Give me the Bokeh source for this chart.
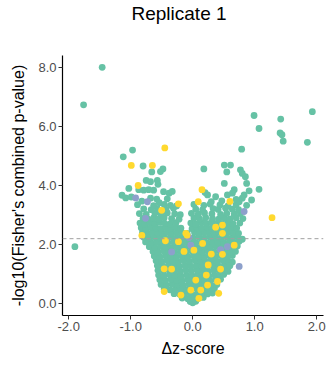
from bokeh.plotting import figure
from bokeh.models import Span, FixedTicker, PrintfTickFormatter, Range1d, Title
from bokeh.embed import file_html
from bokeh.resources import INLINE

title_text = "Replicate 1"
x_label = "Δz-score"
y_label = "-log10(Fisher's combined p-value)"
x_ticks = [-2.0, -1.0, 0.0, 1.0, 2.0]
y_ticks = [0.0, 2.0, 4.0, 6.0, 8.0]
threshold = 2.2

teal_x = [
    -0.04, 0.00, 0.05,
    -0.17, -0.08, 0.00, 0.09, 0.17,
    -0.30, -0.21, -0.12, -0.03, 0.06, 0.15, 0.24, 0.32,
    -0.46, -0.37, -0.28, -0.19, -0.10, -0.01, 0.08, 0.17, 0.26, 0.35,
    -0.51, -0.42, -0.33, -0.24, -0.15, -0.06, 0.03, 0.12, 0.21, 0.30, 0.39,
    -0.53, -0.44, -0.35, -0.26, -0.17, -0.08, 0.01, 0.10, 0.19, 0.28, 0.37, 0.45,
    -0.55, -0.46, -0.37, -0.28, -0.19, -0.10, -0.01, 0.08, 0.17, 0.26, 0.35, 0.44, 0.50,
    -0.56, -0.47, -0.38, -0.29, -0.20, -0.11, -0.02, 0.07, 0.16, 0.25, 0.34, 0.43, 0.52, 0.57,
    -0.57, -0.48, -0.39, -0.30, -0.21, -0.12, -0.03, 0.06, 0.15, 0.24, 0.33, 0.42, 0.51, 0.60,
    -0.59, -0.50, -0.41, -0.32, -0.23, -0.14, -0.05, 0.04, 0.13, 0.22, 0.31, 0.40, 0.49, 0.58, 0.64,
    -0.62, -0.53, -0.44, -0.35, -0.26, -0.17, -0.08, 0.01, 0.10, 0.19, 0.28, 0.37, 0.46, 0.55, 0.64,
    -0.64, -0.56, -0.47, -0.38, -0.29, -0.20, -0.11, -0.02, 0.07, 0.16, 0.25, 0.34, 0.43, 0.52, 0.61, 0.69,
    -0.70, -0.61, -0.52, -0.43, -0.34, -0.25, -0.16, -0.07, 0.02, 0.11, 0.20, 0.29, 0.38, 0.47, 0.56, 0.65, 0.72,
    -0.76, -0.67, -0.58, -0.49, -0.40, -0.31, -0.22, -0.13, -0.04, 0.05, 0.14, 0.23, 0.32, 0.41, 0.50, 0.59, 0.68, 0.75,
    -0.79, -0.70, -0.62, -0.53, -0.44, -0.35, -0.26, -0.17, -0.08, 0.01, 0.10, 0.19, 0.28, 0.37, 0.46, 0.55, 0.64, 0.73, 0.80,
    -0.81, -0.73, -0.65, -0.57, -0.49, -0.41, -0.33, -0.25, -0.17, -0.09, 0.03, 0.11, 0.19, 0.27, 0.35, 0.43, 0.51, 0.59, 0.67, 0.74,
    -0.83, -0.75, -0.67, -0.59, -0.51, -0.43, -0.35, -0.27, -0.19, -0.01, 0.07, 0.15, 0.23, 0.31, 0.39, 0.47, 0.55, 0.63, 0.71,
    -0.85, -0.77, -0.69, -0.61, -0.53, -0.45, -0.36, -0.27, -0.03, 0.05, 0.14, 0.22, 0.30, 0.39, 0.47, 0.56, 0.65, 0.76,
    -0.80, -0.72, -0.63, -0.55, -0.46, -0.34, -0.22, 0.02, 0.11, 0.21, 0.32, 0.42, 0.51, 0.60, 0.70, 0.81,
    -0.86, -0.75, -0.61, -0.51, -0.41, -0.29, -0.20, -0.02, 0.09, 0.19, 0.31, 0.45, 0.55, 0.67, 0.77,
    -0.79, -0.67, -0.57, -0.43, -0.31, 0.05, 0.16, 0.33, 0.41, 0.53, 0.64, 0.74,
    -0.89, -0.63, -0.46, -0.36, -0.26, 0.02, 0.18, 0.28, 0.44, 0.57, 0.70, 0.87,
    -1.12, -0.97, -0.80, -0.48, -0.52, -0.66, -0.75, -0.68, -0.57, -0.56, -1.03, -0.87, -0.79,
    -0.71, -0.63, -0.47, -0.38, -0.33, -1.14, -1.08, -0.99, -0.68, -0.58, -0.41, -0.54, -0.82,
    0.79, 0.18, 0.51, 0.61, 0.55, 0.77, 0.80, 0.85, 0.51, 0.87, 1.07, 0.67, 0.64,
    0.56, 0.37, 0.24, 0.20, 0.80, 0.83, 0.95, 0.75, 0.91, 0.70, 0.30, 0.47,
    -1.46, -1.76, -1.90, 0.99, 1.42, 1.93, 1.07, 1.41, 1.44, 1.46, 1.85,
]
teal_y = [
    0.07, 0.03, 0.08,
    0.19, 0.17, 0.20, 0.18, 0.21,
    0.34, 0.32, 0.35, 0.33, 0.31, 0.34, 0.33, 0.36,
    0.50, 0.47, 0.49, 0.48, 0.46, 0.50, 0.48, 0.47, 0.49, 0.51,
    0.65, 0.63, 0.66, 0.64, 0.62, 0.65, 0.63, 0.66, 0.64, 0.62, 0.65,
    0.81, 0.79, 0.82, 0.80, 0.78, 0.81, 0.79, 0.82, 0.80, 0.78, 0.81, 0.83,
    0.97, 0.95, 0.98, 0.96, 0.94, 0.97, 0.95, 0.98, 0.96, 0.94, 0.97, 0.95, 0.99,
    1.13, 1.11, 1.14, 1.12, 1.10, 1.13, 1.11, 1.14, 1.12, 1.10, 1.13, 1.11, 1.14, 1.09,
    1.29, 1.27, 1.30, 1.28, 1.26, 1.29, 1.27, 1.30, 1.28, 1.26, 1.29, 1.27, 1.30, 1.28,
    1.45, 1.43, 1.46, 1.44, 1.42, 1.45, 1.43, 1.46, 1.44, 1.42, 1.45, 1.43, 1.46, 1.44, 1.41,
    1.61, 1.59, 1.62, 1.60, 1.58, 1.61, 1.59, 1.62, 1.60, 1.58, 1.61, 1.59, 1.62, 1.60, 1.63,
    1.77, 1.75, 1.78, 1.76, 1.74, 1.77, 1.75, 1.78, 1.76, 1.74, 1.77, 1.75, 1.78, 1.76, 1.74, 1.77,
    1.93, 1.91, 1.94, 1.92, 1.90, 1.93, 1.91, 1.94, 1.92, 1.90, 1.93, 1.91, 1.94, 1.92, 1.90, 1.93, 1.95,
    2.09, 2.07, 2.10, 2.08, 2.06, 2.09, 2.07, 2.10, 2.08, 2.06, 2.09, 2.07, 2.10, 2.08, 2.06, 2.09, 2.07, 2.11,
    2.25, 2.23, 2.26, 2.24, 2.22, 2.25, 2.23, 2.26, 2.24, 2.22, 2.25, 2.23, 2.26, 2.24, 2.22, 2.25, 2.23, 2.26, 2.18,
    2.41, 2.39, 2.42, 2.40, 2.38, 2.41, 2.39, 2.42, 2.40, 2.38, 2.41, 2.39, 2.42, 2.40, 2.38, 2.41, 2.39, 2.42, 2.40, 2.38,
    2.57, 2.55, 2.58, 2.56, 2.54, 2.57, 2.55, 2.58, 2.56, 2.54, 2.57, 2.55, 2.58, 2.56, 2.54, 2.57, 2.55, 2.58, 2.56,
    2.73, 2.70, 2.74, 2.71, 2.75, 2.72, 2.70, 2.74, 2.73, 2.70, 2.74, 2.71, 2.75, 2.72, 2.70, 2.74, 2.71, 2.73,
    2.89, 2.86, 2.90, 2.87, 2.91, 2.88, 2.86, 2.90, 2.87, 2.91, 2.88, 2.86, 2.90, 2.87, 2.91, 2.88,
    3.05, 3.02, 3.06, 3.03, 3.07, 3.04, 3.01, 3.06, 3.03, 3.07, 3.04, 3.02, 3.06, 3.03, 3.05,
    3.21, 3.18, 3.22, 3.19, 3.23, 3.20, 3.17, 3.22, 3.19, 3.23, 3.20, 3.18,
    3.35, 3.32, 3.36, 3.33, 3.31, 3.36, 3.33, 3.37, 3.34, 3.31, 3.35, 3.33,
    4.97, 5.20, 4.66, 4.56, 4.47, 4.46, 4.17, 4.13, 4.17, 4.04, 3.90, 3.86, 3.84,
    3.86, 3.84, 3.79, 3.74, 3.80, 3.67, 3.58, 3.61, 3.57, 3.54, 3.55, 3.42, 3.47,
    5.23, 4.56, 4.69, 4.69, 4.46, 4.53, 4.41, 4.30, 4.07, 4.07, 3.87, 3.86, 3.74,
    3.68, 3.62, 3.68, 3.76, 3.57, 3.68, 3.51, 3.45, 3.82, 3.53, 3.45, 3.48,
    8.00, 6.73, 1.93, 6.37, 6.25, 6.50, 5.93, 5.78, 5.72, 5.50, 5.46,
]

yellow_x = [
    -0.45, -0.99, -0.65, -0.88, 0.15, 0.09, 0.60, 1.28, -0.23, -0.50,
    -0.82, 0.67, -0.46, -0.19, -0.46, -0.34, -0.14, 0.02, 0.05, 0.22,
    0.25, 0.45, 0.40, 0.13, -0.03, 0.48, 0.48, 0.37, -0.11, -0.23,
    -0.44, 0.48, 0.30, -0.09, 0.42, 0.10, 0.16, 0.24,
]
yellow_y = [
    5.27, 4.68, 4.68, 4.00, 3.86, 3.45, 3.46, 2.91, 3.38, 3.16,
    2.31, 1.98, 0.41, 0.29, 1.18, 1.17, 1.77, 1.81, 0.80, 0.97,
    1.31, 1.17, 0.75, 0.46, 0.46, 2.38, 2.66, 2.59, 2.38, 2.10,
    2.13, 1.67, 1.68, 2.32, 0.35, 0.18, 2.04, 0.63,
]

purple_x = [-0.92, -0.73, 0.83, 0.75, 0.45, -0.34, -0.06, -0.76, 0.56, -0.03]
purple_y = [3.58, 3.45, 3.12, 1.26, 1.83, 1.75, 2.24, 2.89, 1.93, 1.98]

assert len(teal_x) == len(teal_y)
assert len(yellow_x) == len(yellow_y)
assert len(purple_x) == len(purple_y)

TEAL = "#66c2a5"
YELLOW = "#ffd92f"
PURPLE = "#8da0cb"
FONT = "Liberation Sans"

p = figure(width=329, height=368, output_backend="svg", toolbar_location=None,
           x_range=Range1d(-2.1, 2.11), y_range=Range1d(-0.4, 8.4),
           min_border_left=62, min_border_right=6, min_border_top=55, min_border_bottom=53)

xa = p.below[0]
ya = p.left[0]

p.outline_line_color = None
p.xgrid.grid_line_color = None
p.ygrid.grid_line_color = None

for ax in (xa, ya):
    ax.axis_line_color = "#000000"
    ax.axis_line_width = 1.2
    ax.major_tick_line_color = "#333333"
    ax.major_tick_out = 4
    ax.major_tick_in = 0
    ax.minor_tick_line_color = None
    ax.major_label_text_font = FONT
    ax.major_label_text_font_size = "13px"
    ax.major_label_text_color = "#4d4d4d"
    ax.major_label_standoff = 2
    ax.axis_label_text_font = FONT
    ax.axis_label_text_font_size = "16px"
    ax.axis_label_text_font_style = "normal"
    ax.axis_label_text_color = "#000000"
    ax.formatter = PrintfTickFormatter(format="%.1f")

xa.ticker = FixedTicker(ticks=x_ticks)
ya.ticker = FixedTicker(ticks=y_ticks)
xa.axis_label = x_label
ya.axis_label = y_label
xa.axis_label_standoff = 6
ya.axis_label_standoff = 8

# blank spacer between the frame and the title (nearest to the frame)
p.add_layout(Title(text=" ", text_font=FONT, text_font_size="10px", standoff=19), "above")
p.add_layout(Title(text=title_text, text_font=FONT, text_font_size="19px",
                   text_font_style="normal", text_color="#000000",
                   align="left", offset=69, standoff=0), "above")

p.add_layout(Span(location=threshold, dimension="width", line_color="#a0a0a0",
                  line_dash="4 3", line_width=1))

p.scatter(teal_x, teal_y, size=6.8, fill_color=TEAL, line_color=None)
p.scatter(purple_x, purple_y, size=6.8, fill_color=PURPLE, line_color=None)
p.scatter(yellow_x, yellow_y, size=6.8, fill_color=YELLOW, line_color=None)

open("out.html", "w").write(file_html(p, INLINE))
